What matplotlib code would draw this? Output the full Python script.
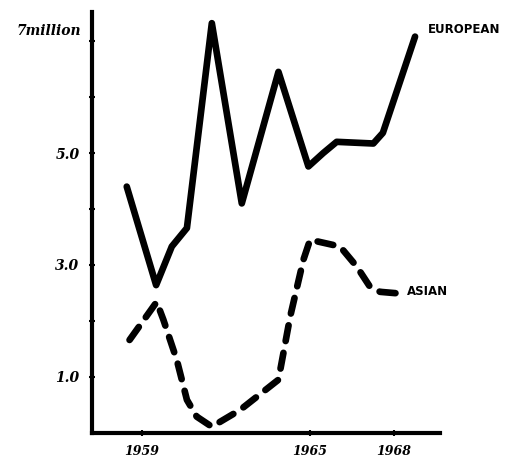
import matplotlib
matplotlib.use("Agg")
import matplotlib.pyplot as plt

# immigration, millions per year (hand-drawn chart, values read by eye)
eu_years = [1958.45, 1959.5, 1960.06, 1960.6, 1961.49, 1962.56, 1963.87,
            1964.94, 1965.47, 1965.95, 1967.26, 1967.6, 1968.75]
eu_vals = [4.40, 2.64, 3.33, 3.66, 7.32, 4.10, 6.45,
           4.76, 5.0, 5.2, 5.17, 5.36, 7.08]

as_years = [1958.55, 1959.52, 1959.76, 1960.24, 1960.6, 1960.95, 1961.49,
            1962.5, 1963.87, 1964.29, 1964.76, 1965.0, 1966.07, 1966.67,
            1967.14, 1967.5, 1968.2]
as_vals = [1.66, 2.34, 2.02, 1.30, 0.59, 0.29, 0.11,
           0.41, 0.95, 2.08, 3.09, 3.45, 3.33, 2.97,
           2.61, 2.52, 2.49]

xticks = [1959, 1965, 1968]
yticks = [1, 2, 3, 4, 5, 6, 7]
ylabels = ['1.0', '', '3.0', '', '5.0', '', '']

fig = plt.figure(figsize=(5.17, 4.61), dpi=100)
ax = fig.add_axes([0.178, 0.061, 0.673, 0.913])

ax.plot(eu_years, eu_vals, color='black', lw=4.8,
        solid_joinstyle='round', solid_capstyle='round')
ax.plot(as_years, as_vals, color='black', lw=4.8,
        linestyle=(0, (2.4, 1.8)), dash_capstyle='round')

ax.set_xlim(1957.21, 1969.64)
ax.set_ylim(0.0, 7.52)

for s in ['top', 'right']:
    ax.spines[s].set_visible(False)
for s in ['left', 'bottom']:
    ax.spines[s].set_linewidth(3)

hand = dict(fontstyle='italic', fontweight='bold', family='DejaVu Serif')
ax.set_xticks(xticks)
ax.set_xticklabels([str(y) for y in xticks], fontsize=9, **hand)
ax.set_yticks(yticks)
ax.set_yticklabels(ylabels, fontsize=10, **hand)
ax.tick_params(axis='both', length=4, width=1.5, direction='inout', pad=7)

ax.text(-0.03, 7.18, '7million', transform=ax.get_yaxis_transform(),
        ha='right', va='center', fontsize=10, **hand)
ax.text(1969.21, 7.2, 'EUROPEAN', ha='left', va='center', fontsize=8.5,
        fontweight='bold', family='DejaVu Sans', clip_on=False)
ax.text(1968.46, 2.53, 'ASIAN', ha='left', va='center', fontsize=8.5,
        fontweight='bold', family='DejaVu Sans')

fig.savefig('out.png', dpi=100)
